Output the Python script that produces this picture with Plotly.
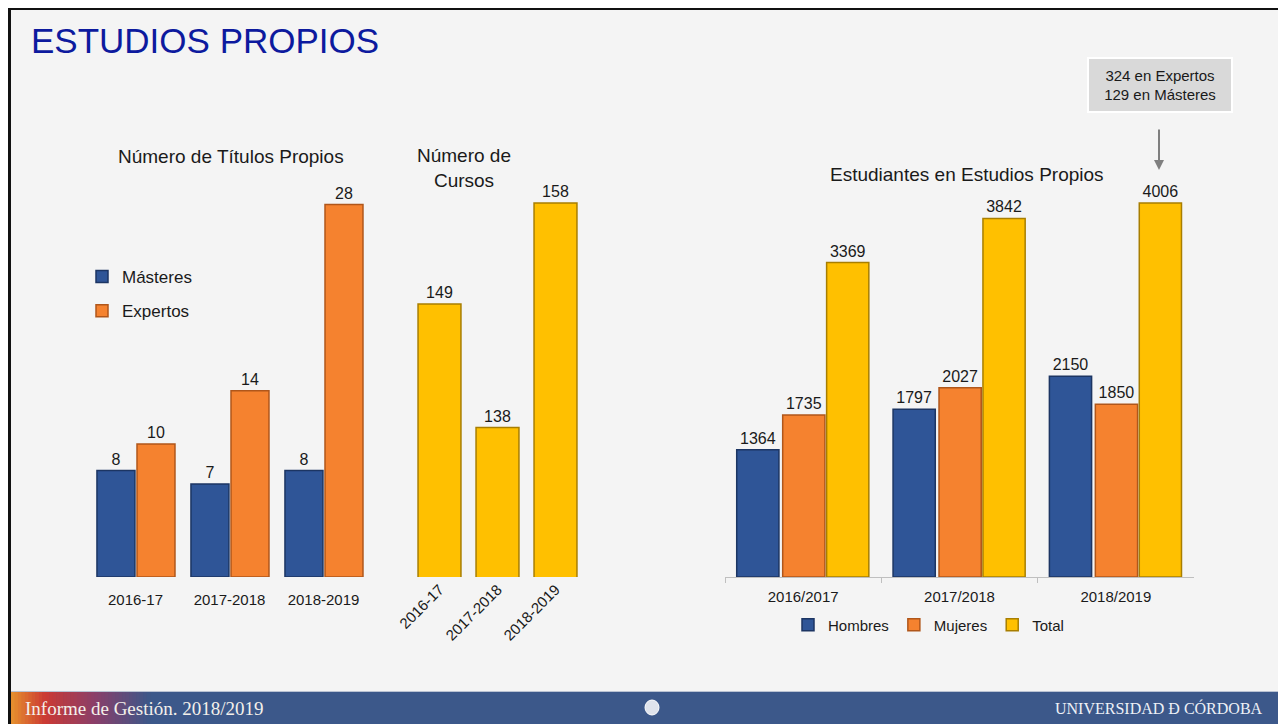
import plotly.graph_objects as go

# Número de Títulos Propios
periodos_titulos = ["2016-17", "2017-2018", "2018-2019"]
masteres = [8, 7, 8]
expertos = [10, 14, 28]

# Número de Cursos
periodos_cursos = ["2016-17", "2017-2018", "2018-2019"]
cursos = [149, 138, 158]

# Estudiantes en Estudios Propios
cursos_academicos = ["2016/2017", "2017/2018", "2018/2019"]
hombres = [1364, 1797, 2150]
mujeres = [1735, 2027, 1850]
total = [3369, 3842, 4006]

nota_total = ["324 en Expertos", "129 en Másteres"]

W, H = 1278, 716
OFF = 8  # the page body keeps an 8px margin


def px(x):
    """screen pixel -> paper x"""
    return (x - OFF) / W


def py(y):
    """screen pixel -> paper y"""
    return 1 - (y - OFF) / H


FONT = "Liberation Sans, Arial, sans-serif"
SERIF = "Liberation Serif, Times New Roman, serif"
TXT = "#1a1a1a"

AZUL, AZUL_BORDE = "#2f5597", "#1c3563"
NARANJA, NARANJA_BORDE = "#f5822f", "#b0561a"
AMARILLO, AMARILLO_BORDE = "#ffc000", "#a87e00"

fig = go.Figure()


def barra(x, y, name, color, edge, width, offset, xa, ya, legend=None):
    return go.Bar(
        x=x, y=y, name=name,
        marker=dict(color=color, line=dict(color=edge, width=1.5)),
        width=width, offset=offset,
        text=y, textposition="outside", textangle=0, constraintext="none",
        textfont=dict(size=16, color=TXT, family=FONT),
        xaxis=xa, yaxis=ya,
        showlegend=legend is not None,
        legend=legend or "legend",
        legendgroup=name,
    )


# left: títulos
fig.add_trace(barra(periodos_titulos, masteres, "Másteres", AZUL, AZUL_BORDE,
                    0.404, -0.41, "x", "y", "legend"))
fig.add_trace(barra(periodos_titulos, expertos, "Expertos", NARANJA, NARANJA_BORDE,
                    0.404, 0.016, "x", "y", "legend"))

# middle: cursos
fig.add_trace(barra(periodos_cursos, cursos, "Cursos", AMARILLO, AMARILLO_BORDE,
                    0.74, -0.37, "x2", "y2"))

# right: estudiantes
fig.add_trace(barra(cursos_academicos, hombres, "Hombres", AZUL, AZUL_BORDE,
                    0.27, -0.425, "x3", "y3", "legend2"))
fig.add_trace(barra(cursos_academicos, mujeres, "Mujeres", NARANJA, NARANJA_BORDE,
                    0.27, -0.131, "x3", "y3", "legend2"))
fig.add_trace(barra(cursos_academicos, total, "Total", AMARILLO, AMARILLO_BORDE,
                    0.27, 0.150, "x3", "y3", "legend2"))

tick_font = dict(size=15, color=TXT, family=FONT)

# footer gradient (orange -> red -> purple -> blue)
stops = [(11, (230, 146, 46)), (45, (204, 58, 52)), (95, (138, 63, 106)), (150, (60, 88, 138))]
shapes = [
    dict(type="rect", xref="paper", yref="paper", x0=px(11), x1=1, y0=0, y1=py(692),
         fillcolor="#3c588a", line_width=0, layer="below"),
]
n = 40
for i in range(n):
    xa = stops[0][0] + (stops[-1][0] - stops[0][0]) * i / n
    xb = stops[0][0] + (stops[-1][0] - stops[0][0]) * (i + 1) / n
    xm = (xa + xb) / 2
    for (s0, c0), (s1, c1) in zip(stops[:-1], stops[1:]):
        if s0 <= xm <= s1:
            t = (xm - s0) / (s1 - s0)
            c = tuple(int(c0[k] + (c1[k] - c0[k]) * t) for k in range(3))
            break
    shapes.append(dict(type="rect", xref="paper", yref="paper", x0=px(xa), x1=px(xb) + 0.0005,
                       y0=0, y1=py(692), fillcolor="rgb(%d,%d,%d)" % c, line_width=0, layer="below"))
shapes += [
    dict(type="line", xref="paper", yref="paper", x0=px(11), x1=1, y0=py(691.5), y1=py(691.5),
         line=dict(color="#b9c2d2", width=1)),
    # slide frame
    dict(type="rect", xref="paper", yref="paper", x0=0, x1=px(11), y0=0, y1=1,
         fillcolor="#111111", line_width=0),
    dict(type="rect", xref="paper", yref="paper", x0=0, x1=1, y0=py(10), y1=1,
         fillcolor="#111111", line_width=0),
    # little crest in the footer
    dict(type="circle", xref="paper", yref="paper", x0=px(645), x1=px(659), y0=py(715), y1=py(700),
         fillcolor="#dfe3ec", line=dict(color="#ffffff", width=1)),
]

annotations = [
    dict(text="ESTUDIOS PROPIOS", x=px(29), y=py(41), xanchor="left", yanchor="middle",
         font=dict(size=35, color="#0d1a9e", family=FONT)),
    dict(text="Número de Títulos Propios", x=px(231), y=py(157), xanchor="center", yanchor="middle",
         font=dict(size=19, color=TXT, family=FONT)),
    dict(text="Número de<br>Cursos", x=px(464), y=py(168), xanchor="center", yanchor="middle",
         font=dict(size=19, color=TXT, family=FONT)),
    dict(text="Estudiantes en Estudios Propios", x=px(967), y=py(175), xanchor="center", yanchor="middle",
         font=dict(size=19, color=TXT, family=FONT)),
    dict(text="<br>".join(nota_total), x=px(1160), y=py(85), xanchor="center", yanchor="middle",
         width=140, height=50, bgcolor="#d9d9d9", bordercolor="#ffffff", borderwidth=2,
         font=dict(size=15, color=TXT, family=FONT)),
    dict(text="", x=px(1159), y=py(170), ax=0, ay=-42, showarrow=True, arrowhead=2,
         arrowsize=1, arrowwidth=2, arrowcolor="#7f7f7f"),
    dict(text="Informe de Gestión. 2018/2019", x=px(23), y=py(708), xanchor="left", yanchor="middle",
         font=dict(size=19, color="#f4f0ea", family=SERIF)),
    dict(text="UNIVERSIDAD Đ CÓRDOBA", x=px(1265), y=py(708), xanchor="right", yanchor="middle",
         font=dict(size=16, color="#eef1f7", family=SERIF)),
]
for a in annotations:
    a.setdefault("xref", "paper")
    a.setdefault("yref", "paper")
    a.setdefault("showarrow", False)

fig.update_layout(
    width=W, height=H,
    margin=dict(l=0, r=0, t=0, b=0, autoexpand=False),
    paper_bgcolor="#f4f4f4",
    plot_bgcolor="rgba(0,0,0,0)",
    barmode="overlay",
    font=dict(family=FONT, color=TXT),
    xaxis=dict(domain=[px(88.5), px(370.5)], anchor="y", showgrid=False, zeroline=False,
               ticks="", ticklabelstandoff=12, tickfont=tick_font, automargin=False),
    yaxis=dict(domain=[py(577), py(178)], range=[0, 30], visible=False),
    xaxis2=dict(domain=[px(410.5), px(584.5)], anchor="y2", showgrid=False, zeroline=False,
                ticks="", tickangle=-45, ticklabelstandoff=0, tickfont=tick_font, automargin=False),
    yaxis2=dict(domain=[py(577), py(158)], range=[124.7, 162], visible=False),
    xaxis3=dict(domain=[px(725), px(1194)], anchor="y3", showgrid=False, zeroline=False,
                showline=True, linecolor="#bfbfbf", linewidth=1,
                ticks="outside", tickson="boundaries", ticklen=5, tickcolor="#bfbfbf",
                ticklabelstandoff=6, tickfont=tick_font, automargin=False),
    yaxis3=dict(domain=[py(577), py(157)], range=[0, 4500], visible=False),
    legend=dict(x=px(82), y=py(259), xanchor="left", yanchor="top",
                bgcolor="rgba(0,0,0,0)", font=dict(size=17, color=TXT, family=FONT),
                traceorder="grouped", tracegroupgap=9),
    legend2=dict(orientation="h", x=px(788), y=py(625), xanchor="left", yanchor="middle",
                 bgcolor="rgba(0,0,0,0)", font=dict(size=15, color=TXT, family=FONT)),
    shapes=shapes,
    annotations=annotations,
)

fig.write_html("out.html")
